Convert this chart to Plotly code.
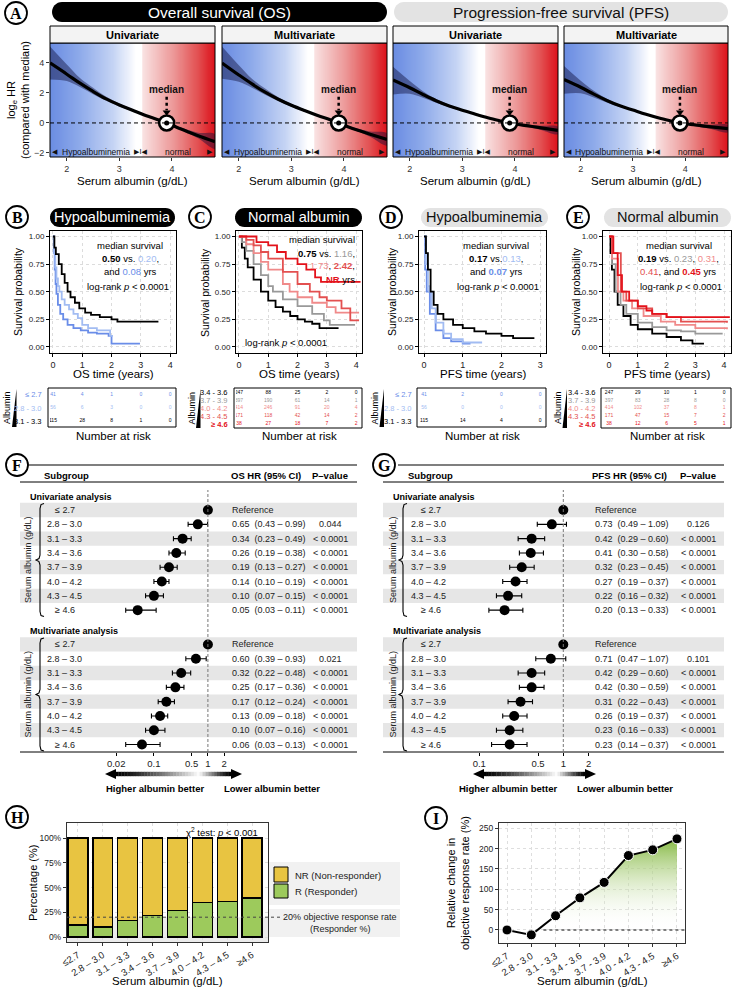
import numpy as np
import plotly.graph_objects as go

W, H = 732, 988
SANS = "Liberation Sans, Arial, Helvetica, sans-serif"
SERIF = "Liberation Serif, DejaVu Serif, serif"
SYM = "DejaVu Sans, sans-serif"

# ======================= DATA =======================
# Panel A: log HR (vs median albumin) spline estimates
alb_grid = [1.68, 2.0, 2.25, 2.5, 2.75, 3.0, 3.25, 3.5, 3.75, 3.9, 4.1, 4.3, 4.5, 4.82]
os_uni_hr = [4.0, 3.25, 2.65, 2.1, 1.6, 1.2, 0.85, 0.5, 0.2, 0.0, -0.3, -0.58, -0.85, -1.25]
os_uni_lo = [2.9, 2.8, 2.4, 1.92, 1.48, 1.1, 0.78, 0.45, 0.17, 0.0, -0.36, -0.68, -1.02, -1.72]
os_uni_hi = [5.1, 3.9, 3.0, 2.35, 1.75, 1.3, 0.92, 0.56, 0.23, 0.0, -0.24, -0.45, -0.65, -0.75]
os_multi_hr = [4.0, 3.2, 2.6, 2.05, 1.58, 1.18, 0.83, 0.5, 0.2, 0.0, -0.28, -0.52, -0.75, -1.1]
os_multi_lo = [2.95, 2.75, 2.35, 1.88, 1.46, 1.08, 0.76, 0.45, 0.17, 0.0, -0.34, -0.62, -0.92, -1.5]
os_multi_hi = [5.1, 3.85, 2.95, 2.3, 1.72, 1.28, 0.9, 0.56, 0.23, 0.0, -0.22, -0.4, -0.57, -0.7]
pfs_uni_hr = [2.87, 2.35, 1.9, 1.48, 1.13, 0.85, 0.58, 0.33, 0.12, 0.0, -0.12, -0.22, -0.33, -0.5]
pfs_uni_lo = [1.9, 1.95, 1.68, 1.35, 1.05, 0.8, 0.55, 0.31, 0.11, 0.0, -0.17, -0.32, -0.47, -0.75]
pfs_uni_hi = [3.75, 2.8, 2.12, 1.6, 1.21, 0.9, 0.62, 0.36, 0.13, 0.0, -0.08, -0.13, -0.18, -0.25]
pfs_multi_hr = [2.9, 2.38, 1.92, 1.5, 1.14, 0.86, 0.58, 0.33, 0.12, 0.0, -0.1, -0.18, -0.26, -0.38]
pfs_multi_lo = [1.95, 1.98, 1.7, 1.37, 1.06, 0.81, 0.55, 0.31, 0.11, 0.0, -0.15, -0.28, -0.4, -0.62]
pfs_multi_hi = [3.8, 2.82, 2.15, 1.62, 1.22, 0.91, 0.62, 0.36, 0.13, 0.0, -0.06, -0.09, -0.12, -0.15]
median_albumin = 3.9

# Panel B: OS, hypoalbuminemia (≤2.7, 2.8-3.0, 3.1-3.3)
km_B_t = [
    [0, 0.03, 0.06, 0.09, 0.12, 0.17, 0.25, 0.35, 0.5, 0.7, 0.95, 1.2, 1.5, 1.9, 2.0, 2.97],
    [0, 0.04, 0.08, 0.12, 0.17, 0.22, 0.3, 0.4, 0.55, 0.7, 0.85, 1.0, 1.2, 1.5, 1.95, 2.05],
    [0, 0.05, 0.1, 0.2, 0.3, 0.4, 0.5, 0.6, 0.75, 0.9, 1.1, 1.3, 1.6, 2.0, 2.2, 3.6],
]
km_B_s = [
    [1, 0.85, 0.7, 0.57, 0.48, 0.38, 0.3, 0.25, 0.2, 0.17, 0.15, 0.13, 0.12, 0.1, 0.03, 0.03],
    [1, 0.85, 0.72, 0.62, 0.55, 0.5, 0.43, 0.38, 0.34, 0.3, 0.26, 0.2, 0.17, 0.15, 0.1, 0.1],
    [1, 0.9, 0.84, 0.75, 0.66, 0.58, 0.5, 0.45, 0.4, 0.35, 0.31, 0.29, 0.27, 0.25, 0.23, 0.23],
]
# Panel C: OS, normal albumin (3.4-3.6 ... ≥4.6)
km_C_t = [
    [0, 0.1, 0.2, 0.3, 0.5, 0.75, 1.0, 1.25, 1.5, 1.75, 2.0, 2.25, 2.5, 2.75, 3.4],
    [0, 0.1, 0.25, 0.5, 0.75, 1.0, 1.16, 1.5, 2.0, 2.5, 2.9, 3.1, 3.96],
    [0, 0.25, 0.5, 0.75, 1.0, 1.5, 1.73, 2.0, 2.5, 3.0, 3.3, 4.1],
    [0, 0.25, 0.5, 0.75, 1.0, 1.5, 2.0, 2.42, 2.75, 3.0, 3.5, 3.8, 4.1],
    [0, 0.5, 0.6, 1.0, 1.3, 1.6, 2.0, 2.3, 2.6, 2.8, 4.15],
]
km_C_s = [
    [1, 0.9, 0.8, 0.72, 0.61, 0.5, 0.42, 0.36, 0.32, 0.28, 0.25, 0.23, 0.21, 0.17, 0.17],
    [1, 0.95, 0.87, 0.75, 0.65, 0.55, 0.5, 0.43, 0.37, 0.3, 0.24, 0.2, 0.2],
    [1, 0.93, 0.85, 0.77, 0.7, 0.57, 0.5, 0.45, 0.4, 0.36, 0.31, 0.31],
    [1, 0.97, 0.92, 0.86, 0.8, 0.68, 0.57, 0.5, 0.45, 0.42, 0.35, 0.24, 0.24],
    [1, 1.0, 0.95, 0.92, 0.86, 0.8, 0.75, 0.7, 0.63, 0.59, 0.59],
]
# Panel D: PFS, hypoalbuminemia
km_D_t = [
    [0, 0.03, 0.07, 0.15, 0.3, 0.5, 0.7, 1.0, 1.2],
    [0, 0.05, 0.1, 0.13, 0.2, 0.3, 0.5, 0.7, 1.0, 1.5],
    [0, 0.05, 0.1, 0.17, 0.25, 0.35, 0.5, 0.75, 1.0, 1.3, 1.6, 2.0, 2.3, 2.85],
]
km_D_s = [
    [1, 0.7, 0.5, 0.3, 0.15, 0.08, 0.05, 0.03, 0.03],
    [1, 0.75, 0.55, 0.5, 0.35, 0.22, 0.12, 0.07, 0.04, 0.04],
    [1, 0.85, 0.7, 0.5, 0.38, 0.3, 0.25, 0.2, 0.17, 0.14, 0.12, 0.1, 0.08, 0.08],
]
# Panel E: PFS, normal albumin
km_E_t = [
    [0, 0.05, 0.1, 0.19, 0.3, 0.5, 0.75, 1.0, 1.5, 2.0, 2.5, 2.9, 3.3],
    [0, 0.1, 0.23, 0.4, 0.6, 1.0, 1.5, 2.0, 2.5, 3.0, 3.95],
    [0, 0.1, 0.31, 0.5, 0.8, 1.2, 1.8, 2.3, 3.0, 4.1],
    [0, 0.1, 0.41, 0.6, 1.0, 1.5, 2.0, 2.5, 4.1],
    [0, 0.15, 0.3, 0.45, 0.7, 1.0, 1.3, 1.5, 2.0, 4.2],
]
km_E_s = [
    [1, 0.85, 0.7, 0.5, 0.38, 0.28, 0.2, 0.16, 0.12, 0.09, 0.06, 0.03, 0.03],
    [1, 0.75, 0.5, 0.38, 0.3, 0.22, 0.18, 0.15, 0.14, 0.12, 0.12],
    [1, 0.8, 0.5, 0.42, 0.35, 0.28, 0.23, 0.2, 0.17, 0.16],
    [1, 0.85, 0.5, 0.42, 0.35, 0.3, 0.27, 0.23, 0.22],
    [1, 0.85, 0.65, 0.5, 0.42, 0.37, 0.33, 0.3, 0.27, 0.27],
]

hypo_groups = ["≤ 2.7", "2.8 - 3.0", "3.1 - 3.3"]
normal_groups = ["3.4 - 3.6", "3.7 - 3.9", "4.0 - 4.2", "4.3 - 4.5", "≥ 4.6"]
risk_B = [[41, 4, 1, 0, 0], [56, 6, 3, 0, 0], [115, 28, 8, 1, 0]]
risk_C = [[247, 88, 25, 2, 0], [397, 190, 61, 14, 1], [414, 246, 91, 20, 4],
          [171, 118, 42, 14, 2], [38, 27, 18, 7, 2]]
risk_D = [[41, 2, 0, 0], [56, 0, 0, 0], [115, 14, 4, 0]]
risk_E = [[247, 29, 10, 1, 0], [397, 83, 28, 8, 0], [414, 102, 37, 8, 1],
          [171, 47, 15, 7, 2], [38, 12, 6, 5, 1]]

# Forest plots
forest_cats = ["≤ 2.7", "2.8 – 3.0", "3.1 – 3.3", "3.4 – 3.6", "3.7 – 3.9", "4.0 – 4.2", "4.3 – 4.5", "≥ 4.6"]
F_uni_hr = [1, 0.65, 0.34, 0.26, 0.19, 0.14, 0.10, 0.05]
F_uni_lo = [1, 0.43, 0.23, 0.19, 0.13, 0.10, 0.07, 0.03]
F_uni_hi = [1, 0.99, 0.49, 0.38, 0.27, 0.19, 0.15, 0.11]
F_uni_p = ["", "0.044", "< 0.0001", "< 0.0001", "< 0.0001", "< 0.0001", "< 0.0001", "< 0.0001"]
F_multi_hr = [1, 0.60, 0.32, 0.25, 0.17, 0.13, 0.10, 0.06]
F_multi_lo = [1, 0.39, 0.22, 0.17, 0.12, 0.09, 0.07, 0.03]
F_multi_hi = [1, 0.93, 0.48, 0.36, 0.24, 0.18, 0.16, 0.13]
F_multi_p = ["", "0.021", "< 0.0001", "< 0.0001", "< 0.0001", "< 0.0001", "< 0.0001", "< 0.0001"]
G_uni_hr = [1, 0.73, 0.42, 0.41, 0.32, 0.27, 0.22, 0.20]
G_uni_lo = [1, 0.49, 0.29, 0.30, 0.23, 0.19, 0.16, 0.13]
G_uni_hi = [1, 1.09, 0.60, 0.58, 0.45, 0.37, 0.32, 0.33]
G_uni_p = ["", "0.126", "< 0.0001", "< 0.0001", "< 0.0001", "< 0.0001", "< 0.0001", "< 0.0001"]
G_multi_hr = [1, 0.71, 0.42, 0.42, 0.31, 0.26, 0.23, 0.23]
G_multi_lo = [1, 0.47, 0.29, 0.30, 0.22, 0.19, 0.16, 0.14]
G_multi_hi = [1, 1.07, 0.60, 0.59, 0.43, 0.37, 0.33, 0.37]
G_multi_p = ["", "0.101", "< 0.0001", "< 0.0001", "< 0.0001", "< 0.0001", "< 0.0001", "< 0.0001"]
F_ticks = [0.02, 0.1, 0.5, 1, 2]
G_ticks = [0.1, 0.5, 1, 2]

# H / I
H_cats = ["≤2.7", "2.8 – 3.0", "3.1 – 3.3", "3.4 – 3.6", "3.7 – 3.9", "4.0 – 4.2", "4.3 – 4.5", "≥4.6"]
I_cats = ["≤2.7", "2.8 - 3.0", "3.1 - 3.3", "3.4 - 3.6", "3.7 - 3.9", "4.0 - 4.2", "4.3 - 4.5", "≥4.6"]
responder_frac = [0.12, 0.10, 0.17, 0.215, 0.27, 0.35, 0.36, 0.395]
orr_rel_change = [0, -12, 35, 79, 117, 183, 197, 224]

# ======================= HELPERS =======================
C_LE27 = "#6a8de8"
C_2830 = "#a2bcf2"
C_3739 = "#999999"
C_4042 = "#f08a8a"
C_4345 = "#e35050"
C_GE46 = "#e3121b"
hypo_colors = [C_LE27, C_2830, "black"]
normal_colors = ["black", C_3739, C_4042, C_4345, C_GE46]

fig = go.Figure()
layout = {}
shapes = []
anns = []


def PX(p):
    return p / W


def PY(p):
    return 1 - p / H


def refs(n):
    return ("x" if n == 1 else f"x{n}"), ("y" if n == 1 else f"y{n}")


def set_axes(n, xpx, ypx, xr, yr, xopt=None, yopt=None):
    xk = "xaxis" if n == 1 else f"xaxis{n}"
    yk = "yaxis" if n == 1 else f"yaxis{n}"
    xr_, yr_ = refs(n)
    base = dict(showgrid=False, zeroline=False, showline=False, showticklabels=False,
                ticks="", fixedrange=True, automargin=False,
                tickfont=dict(family=SANS, size=9, color="#333"))
    xa = dict(base, domain=[PX(xpx[0]), PX(xpx[1])], range=xr, anchor=yr_)
    ya = dict(base, domain=[PY(ypx[1]), PY(ypx[0])], range=yr, anchor=xr_)
    if xopt:
        xa.update(xopt)
    if yopt:
        ya.update(yopt)
    layout[xk] = xa
    layout[yk] = ya
    return xr_, yr_


def ann(x, y, text, size=9, color="black", xanchor="center", yanchor="middle",
        angle=0, xref="paper", yref="paper", family=SANS, **kw):
    if text == "":
        return
    xx = PX(x) if xref == "paper" else x
    yy = PY(y) if yref == "paper" else y
    anns.append(dict(x=xx, y=yy, xref=xref, yref=yref, text=text, showarrow=False,
                     xanchor=xanchor, yanchor=yanchor, textangle=angle,
                     font=dict(family=family, size=size, color=color), **kw))


def rect(x0, y0, x1, y1, fill="rgba(0,0,0,0)", line="black", lw=1, layer="above"):
    shapes.append(dict(type="rect", xref="paper", yref="paper", x0=PX(x0), x1=PX(x1),
                       y0=PY(y1), y1=PY(y0), fillcolor=fill,
                       line=dict(color=line, width=lw), layer=layer))


def hline(x0, x1, y, color="black", lw=1, dash="solid"):
    shapes.append(dict(type="line", xref="paper", yref="paper", x0=PX(x0), x1=PX(x1),
                       y0=PY(y), y1=PY(y), line=dict(color=color, width=lw, dash=dash)))


def poly(pts, fill="black", line="rgba(0,0,0,0)", lw=0):
    p = "M " + " L ".join(f"{PX(a):.5f},{PY(b):.5f}" for a, b in pts) + " Z"
    shapes.append(dict(type="path", xref="paper", yref="paper", path=p, fillcolor=fill,
                       line=dict(color=line, width=lw)))


def pill(x0, y0, x1, y1, fill, line=None):
    r = (y1 - y0) / 2
    cy = (y0 + y1) / 2
    pts = []
    for a in np.linspace(-90, 90, 16):
        t = np.radians(a)
        pts.append((x1 - r + r * np.cos(t), cy + r * np.sin(t)))
    for a in np.linspace(90, 270, 16):
        t = np.radians(a)
        pts.append((x0 + r + r * np.cos(t), cy + r * np.sin(t)))
    poly(pts, fill=fill, line=line or fill, lw=1 if line else 0)


def label_circle(cx, cy, letter):
    r = 11
    shapes.append(dict(type="circle", xref="paper", yref="paper", x0=PX(cx - r), x1=PX(cx + r),
                       y0=PY(cy + r), y1=PY(cy - r), fillcolor="white",
                       line=dict(color="black", width=1.8)))
    ann(cx, cy + 0.5, f"<b>{letter}</b>", size=16, family=SERIF)


# ======================= PANEL A =======================
label_circle(16, 13, "A")
pill(52, 2, 387, 22, "black")
ann(219, 12, "Overall survival (OS)", size=15.5, color="white")
pill(394, 2, 728, 22, "#e3e3e3")
ann(561, 12, "Progression-free survival (PFS)", size=15.5, color="#111")

A_specs = [
    (50, 215, "Univariate", os_uni_hr, os_uni_lo, os_uni_hi),
    (222, 387, "Multivariate", os_multi_hr, os_multi_lo, os_multi_hi),
    (393, 558, "Univariate", pfs_uni_hr, pfs_uni_lo, pfs_uni_hi),
    (564, 728, "Multivariate", pfs_multi_hr, pfs_multi_lo, pfs_multi_hi),
]
AX = [1.68, 4.82]
AY = [-2.27, 5.33]
bg_x = np.linspace(AX[0], AX[1], 320)
bg_scale = [[0.0, "#6a8ce2"], [0.18, "#8eaaea"], [0.38, "#c4d3f4"], [0.52, "#ffffff"],
            [0.552, "#ffffff"], [0.56, "#f9e2e2"], [0.75, "#ec9696"], [0.9, "#e24c4e"], [1.0, "#dc0e18"]]
for i, (x0, x1, title, hr, lo, hi) in enumerate(A_specs):
    n = i + 1
    yopt = dict(ticks="outside", ticklen=3, tickcolor="#333", showticklabels=(i == 0),
                tickvals=[-2, 0, 2, 4]) if i == 0 else None
    xr_, yr_ = set_axes(n, (x0, x1), (43, 157), AX, AY,
                        xopt=dict(ticks="outside", ticklen=3, tickcolor="#333",
                                  showticklabels=True, tickvals=[2, 3, 4]),
                        yopt=yopt)
    fig.add_trace(go.Heatmap(x=bg_x, y=AY, z=[bg_x, bg_x], colorscale=bg_scale, zmin=AX[0], zmax=AX[1],
                             showscale=False, hoverinfo="skip", xaxis=xr_, yaxis=yr_))
    fig.add_trace(go.Scatter(x=alb_grid + alb_grid[::-1], y=hi + lo[::-1], fill="toself",
                             fillcolor="rgba(15,15,60,0.45)", line=dict(width=0, shape="spline"),
                             mode="lines", hoverinfo="skip", xaxis=xr_, yaxis=yr_))
    shapes.append(dict(type="line", xref=xr_, yref=yr_, x0=AX[0], x1=AX[1], y0=0, y1=0,
                       line=dict(color="black", width=1, dash="4px,3px")))
    fig.add_trace(go.Scatter(x=alb_grid, y=hr, mode="lines", line=dict(color="black", width=3.2, shape="spline"),
                             hoverinfo="skip", xaxis=xr_, yaxis=yr_))
    # median marker
    fig.add_trace(go.Scatter(x=[median_albumin], y=[0], mode="markers",
                             marker=dict(symbol="circle", size=15, color="white", line=dict(color="black", width=2.6)),
                             hoverinfo="skip", xaxis=xr_, yaxis=yr_))
    fig.add_trace(go.Scatter(x=[median_albumin], y=[0], mode="markers",
                             marker=dict(symbol="circle", size=5, color="black"),
                             hoverinfo="skip", xaxis=xr_, yaxis=yr_))
    fig.add_trace(go.Scatter(x=[median_albumin, median_albumin], y=[1.75, 0.85], mode="lines",
                             line=dict(color="black", width=2.5, dash="dot"), hoverinfo="skip",
                             xaxis=xr_, yaxis=yr_))
    fig.add_trace(go.Scatter(x=[median_albumin], y=[0.72], mode="markers",
                             marker=dict(symbol="triangle-down", size=7, color="black"),
                             hoverinfo="skip", xaxis=xr_, yaxis=yr_))
    ann(median_albumin, 2.25, "<b>median</b>", size=10, xref=xr_, yref=yr_, color="#111")
    ann(2.55, -1.95, "Hypoalbuminemia", size=8.5, xref=xr_, yref=yr_, color="#111")
    ann(4.12, -1.95, "normal", size=8.5, xref=xr_, yref=yr_, color="#111")
    for xx, tt in [(1.77, "◀"), (3.40, "▶I◀"), (4.73, "▶")]:
        ann(xx, -1.95, tt, size=7, xref=xr_, yref=yr_, color="#111", family=SYM)
    rect(x0, 43, x1, 157, lw=1)
    rect(x0, 26, x1, 43, fill="#f3f3f3", lw=1)
    ann((x0 + x1) / 2, 34.5, f"<b>{title}</b>", size=11)
    ann((x0 + x1) / 2, 181, "Serum albumin (g/dL)", size=11.5)
ann(18, 100, "log<sub>e</sub> HR<br>(compared with median)", size=11, angle=-90)

# ======================= KM PANELS =======================
KM_specs = [
    ("B", 17, (50, 176), [-0.1, 4.2], [0, 1, 2, 3, 4], "OS time (years)", km_B_t, km_B_s, hypo_colors,
     "Hypoalbuminemia", "black", "white", 18, risk_B, hypo_groups),
    ("C", 200, (236, 362), [-0.1, 4.2], [0, 1, 2, 3, 4], "OS time (years)", km_C_t, km_C_s, normal_colors,
     "Normal albumin", "black", "white", 205, risk_C, normal_groups),
    ("D", 391, (419, 546), [-0.13, 3.15], [0, 1, 2, 3], "PFS time (years)", km_D_t, km_D_s, hypo_colors,
     "Hypoalbuminemia", "#e3e3e3", "#111", 392, risk_D, hypo_groups),
    ("E", 578, (603, 731), [-0.21, 4.24], [0, 1, 2, 3, 4], "PFS time (years)", km_E_t, km_E_s, normal_colors,
     "Normal albumin", "#e3e3e3", "#111", 576, risk_E, normal_groups),
]
pill_x = {"B": (50, 175), "C": (235, 362), "D": (421, 548), "E": (604, 731)}
for k, (lab, lcx, xpx, xr, xt, xtitle, tt, ss, cols, ptitle, pfill, pcol, ytx, risk, groups) in enumerate(KM_specs):
    n = 5 + k
    xr_, yr_ = set_axes(n, xpx, (231, 353), xr, [-0.055, 1.05],
                        xopt=dict(showline=True, mirror=True, linecolor="black", linewidth=1,
                                  ticks="outside", ticklen=3, tickcolor="black", showticklabels=True,
                                  tickvals=xt, showgrid=True, gridcolor="#dcdcdc", griddash="dot",
                                  tickfont=dict(family=SANS, size=9, color="#222")),
                        yopt=dict(showline=True, mirror=True, linecolor="black", linewidth=1,
                                  ticks="outside", ticklen=3, tickcolor="black", showticklabels=True,
                                  tickvals=[0, 0.25, 0.5, 0.75, 1.0], tickformat=".2f",
                                  showgrid=True, gridcolor="#dcdcdc", griddash="dot",
                                  tickfont=dict(family=SANS, size=8, color="#222")))
    for g in range(len(tt)):
        fig.add_trace(go.Scatter(x=tt[g], y=ss[g], mode="lines", line=dict(color=cols[g], width=1.8, shape="hv"),
                                 hoverinfo="skip", xaxis=xr_, yaxis=yr_))
    label_circle(lcx, 217, lab)
    px0, px1 = pill_x[lab]
    pill(px0, 208, px1, 227, pfill)
    ann((px0 + px1) / 2, 217.5, ptitle, size=14.5, color=pcol)
    ann(ytx, 292, "Survival probability", size=10.5, angle=-90)
    ann((xpx[0] + xpx[1]) / 2, 374, xtitle, size=11.5)

    # risk table
    m = 9 + k
    nrow = len(risk)
    if nrow == 3:
        ypx = (388, 427)
        yr = [nrow - 0.5 + 0.0, -0.54]
        rowpx = [395 + 13 * r for r in range(nrow)]
    else:
        ypx = (388, 428)
        yr = [nrow - 0.5 + 0.0, -0.56]
        rowpx = [392.5 + 8 * r for r in range(nrow)]
    xr2, yr2 = set_axes(m, xpx, ypx, xr, yr)
    for r in range(nrow):
        fig.add_trace(go.Scatter(x=xt, y=[r] * len(xt), text=[str(v) for v in risk[r]], mode="text",
                                 textfont=dict(family=SANS, size=5, color=cols[r]), hoverinfo="skip",
                                 xaxis=xr2, yaxis=yr2))
    rect(xpx[0] - 2, ypx[0], xpx[1], ypx[1], lw=1)
    lab_right = {"B": 44, "C": 230, "D": 414, "E": 598}[lab]
    for r in range(nrow):
        txt = groups[r]
        if groups[r].startswith("≥"):
            txt = f"<b>{txt}</b>"
        ann(lab_right, rowpx[r], txt, size=7.5, color=cols[r], xanchor="right")
    wx = {"B": 16.5, "C": 200.5, "D": 384, "E": 567}[lab]
    poly([(wx, ypx[0] + 1), (wx - 4.5, ypx[1]), (wx, ypx[1])], fill="black")
    ann(wx - 9, (ypx[0] + ypx[1]) / 2, "Albumin", size=9, angle=-90)
    ann((xpx[0] + xpx[1]) / 2, 436, "Number at risk", size=11.5)

# KM annotations
sp = lambda c, t: f'<span style="color:{c}">{t}</span>'
ann(130, 245, "median survival", size=9.5)
ann(130, 258, "<b>0.50</b> vs. " + sp(C_2830, "0.20") + ",", size=9.5)
ann(130, 271, "and " + sp(C_LE27, "0.08") + " yrs", size=9.5)
ann(128, 286, "log-rank <i>p</i> < 0.0001", size=9.5)

ann(357, 240, "median survival", size=9.5, xanchor="right")
ann(357, 253, "<b>0.75</b> vs. " + sp(C_3739, "1.16") + ",", size=9.5, xanchor="right")
ann(357, 266, sp(C_4042, "1.73") + ", " + sp(C_4345, "<b>2.42</b>") + ",", size=9.5, xanchor="right")
ann(357, 279, sp(C_GE46, "<b>NR</b>") + " yrs", size=9.5, xanchor="right")
ann(286, 342, "log-rank <i>p</i> < 0.0001", size=9.5)

ann(496, 245, "median survival", size=9.5)
ann(496, 258, "<b>0.17</b> vs." + sp(C_2830, "0.13") + ",", size=9.5)
ann(496, 271, "and " + sp(C_LE27, "<b>0.07</b>") + " yrs", size=9.5)
ann(498, 286, "log-rank <i>p</i> < 0.0001", size=9.5)

ann(679, 245, "median survival", size=9.5)
ann(678, 258, "<b>0.19</b> vs. " + sp(C_3739, "0.23") + ", " + sp(C_4042, "0.31") + ",", size=9.5)
ann(678, 271, sp(C_4345, "0.41") + ", and " + sp(C_GE46, "<b>0.45</b>") + " yrs", size=9.5)
ann(681, 286, "log-rank <i>p</i> < 0.0001", size=9.5)

# ======================= FOREST PANELS =======================
row_uni = list(range(8))
row_multi = [9.4 + i for i in range(8)]
ROW0_PX = 510
ROW_PX = 14.3


def rowpx(r):
    return ROW0_PX + r * ROW_PX


def brace(xs, ytop, ybot):
    ym = (ytop + ybot) / 2
    d = 4
    rr = 5
    pts = [(xs + d, ytop), (xs + 1, ytop + 1), (xs, ytop + rr), (xs, ym - rr), (xs - 1, ym - 1.5), (xs - d, ym),
           (xs - 1, ym + 1.5), (xs, ym + rr), (xs, ybot - rr), (xs + 1, ybot - 1), (xs + d, ybot)]
    p = "M " + " L ".join(f"{PX(a):.5f},{PY(b):.5f}" for a, b in pts)
    shapes.append(dict(type="path", xref="paper", yref="paper", path=p, line=dict(color="black", width=1.1)))


def forest(n, label, lcx, xpx, xr, ticks, sides, hdr, geom):
    left, right, cat_x, cat_x2, hr_x, p_x, sub_x, sec_x, brace_x, rot_x, top_left = geom
    xr_, yr_ = set_axes(n, xpx, (460, 752), xr, [16.92, -3.5],
                        xopt=dict(type="log", ticks="outside", ticklen=3, tickcolor="black",
                                  showticklabels=True, tickvals=ticks, ticktext=[str(t) for t in ticks],
                                  tickfont=dict(family=SANS, size=9.5, color="#222")))
    label_circle(lcx, 465, label)
    hline(top_left, right, 465, lw=1.2)
    hline(left, right, 482, lw=1)
    hline(left, right, 752, lw=1)
    ann(sub_x, 475, "<b>Subgroup</b>", size=9.5, xanchor="left")
    ann(hr_x + 36, 475, f"<b>{hdr}</b>", size=9.5)
    ann(p_x, 475, "<b>P–value</b>", size=9.5)
    ann(sec_x, rowpx(-0.9), "<b>Univariate analysis</b>", size=9, xanchor="left")
    ann(sec_x, rowpx(8.47), "<b>Multivariate analysis</b>", size=9, xanchor="left")
    shapes.append(dict(type="line", xref=xr_, yref="paper", x0=1, x1=1, y0=PY(752), y1=PY(490),
                       line=dict(color="#777", width=1, dash="3px,2px")))
    for rows, (hr, lo, hi, pv) in zip([row_uni, row_multi], sides):
        for j, r in enumerate(rows):
            if j % 2 == 0:
                rect(left, rowpx(r - 0.5), right, rowpx(r + 0.5), fill="#e6e6e6", line="rgba(0,0,0,0)",
                     lw=0, layer="below")
            cx = cat_x2 if forest_cats[j][0] in "≤≥" else cat_x
            ann(cx, rowpx(r), forest_cats[j], size=9, xanchor="left", color="#222")
            if j == 0:
                ann(hr_x, rowpx(r), "Reference", size=9, xanchor="left", color="#222")
            else:
                ann(hr_x, rowpx(r), f"{hr[j]:.2f}  ({lo[j]:.2f} – {hi[j]:.2f})", size=9,
                    xanchor="left", color="#222")
            ann(p_x, rowpx(r), pv[j], size=9, color="#222")
        fig.add_trace(go.Scatter(
            x=hr, y=rows, mode="markers",
            marker=dict(size=10, color="black"),
            error_x=dict(type="data", symmetric=False,
                         array=[b - a for a, b in zip(hr, hi)],
                         arrayminus=[a - c for a, c in zip(hr, lo)],
                         color="black", thickness=1.1, width=2.5),
            hoverinfo="skip", xaxis=xr_, yaxis=yr_))
        brace(brace_x, rowpx(rows[0] - 0.45), rowpx(rows[-1] + 0.45))
        ann(rot_x, rowpx((rows[0] + rows[-1]) / 2), "Serum albumin (g/dL)", size=9, angle=-90, color="#222")


forest(13, "F", 17, (60, 250), [-2.74, 0.78], F_ticks,
       [(F_uni_hr, F_uni_lo, F_uni_hi, F_uni_p), (F_multi_hr, F_multi_lo, F_multi_hi, F_multi_p)],
       "OS HR (95% CI)",
       (20, 357, 45, 53, 230, 330, 42, 28, 40, 28, 28))
forest(14, "G", 384, (390, 640), [-2.063, 0.913], G_ticks,
       [(G_uni_hr, G_uni_lo, G_uni_hi, G_uni_p), (G_multi_hr, G_multi_lo, G_multi_hi, G_multi_p)],
       "PFS HR (95% CI)",
       (383, 724, 409, 419, 593, 698, 406, 391, 403, 393, 398))


def grad_arrow(xl, xr, yc):
    head = 11
    poly([(xl, yc), (xl + head, yc - 5), (xl + head, yc + 5)], fill="black")
    poly([(xr, yc), (xr - head, yc - 5), (xr - head, yc + 5)], fill="black")
    bx0, bx1 = xl + head - 0.5, xr - head + 0.5
    N = 40
    for k in range(N):
        fm = (k + 0.5) / N
        g = fm / 0.72 if fm < 0.72 else 1 - (fm - 0.72) / 0.28
        v = int(255 * min(1, max(0, g)) ** 1.3)
        xa = bx0 + (bx1 - bx0) * k / N
        xb = bx0 + (bx1 - bx0) * (k + 1) / N + 0.3
        rect(xa, yc - 2.2, xb, yc + 2.2, fill=f"rgb({v},{v},{v})", line="rgba(0,0,0,0)", lw=0)


grad_arrow(105, 242, 774)
ann(155, 788, "<b>Higher albumin better</b>", size=9.5)
ann(272, 788, "<b>Lower albumin better</b>", size=9.5)
grad_arrow(473, 596, 774)
ann(508, 788, "<b>Higher albumin better</b>", size=9.5)
ann(625, 788, "<b>Lower albumin better</b>", size=9.5)

# ======================= PANEL H =======================
label_circle(17, 817, "H")
xh, yh = set_axes(15, (67, 268), (823, 942), [-0.44, 7.64], [-0.0505, 1.152],
                  xopt=dict(showline=True, mirror=True, linecolor="#333", linewidth=1.2,
                            ticks="outside", ticklen=3, tickcolor="#333", showticklabels=True,
                            tickvals=list(range(8)), ticktext=H_cats, tickangle=-32,
                            showgrid=True, gridcolor="#dedede", griddash="dot",
                            tickfont=dict(family=SANS, size=9.5, color="#222")),
                  yopt=dict(showline=True, mirror=True, linecolor="#333", linewidth=1.2,
                            ticks="outside", ticklen=3, tickcolor="#333", showticklabels=True,
                            tickvals=[0, 0.25, 0.5, 0.75, 1.0], tickformat=".0%",
                            showgrid=True, gridcolor="#dedede", griddash="dot",
                            tickfont=dict(family=SANS, size=8.5, color="#222")))
shapes.append(dict(type="rect", xref=xh, yref=yh, x0=-0.44, x1=7.64, y0=-0.0505, y1=0.2,
                   fillcolor="#ebebeb", line=dict(width=0), layer="below"))
nonresp = [1 - r for r in responder_frac]
fig.add_trace(go.Bar(x=list(range(8)), y=responder_frac, width=0.8, marker=dict(color="#9dca5c", line=dict(color="black", width=1.3)),
                     hoverinfo="skip", xaxis=xh, yaxis=yh))
fig.add_trace(go.Bar(x=list(range(8)), y=nonresp, width=0.8, marker=dict(color="#e8c441", line=dict(color="black", width=1.3)),
                     hoverinfo="skip", xaxis=xh, yaxis=yh))
hline(67, 283, 917.2, color="#444", lw=1, dash="dot")
ann(260, 832, "χ<sup>2</sup> test: <i>p</i> < 0.001", size=9.5, xanchor="right")
ann(33, 883, "Percentage (%)", size=11, angle=-90)
ann(167, 981, "Serum albumin (g/dL)", size=11.5)
rect(269, 862, 400, 905, fill="#f1f1f1", line="rgba(0,0,0,0)", lw=0, layer="below")
rect(269, 909, 400, 937, fill="#f1f1f1", line="rgba(0,0,0,0)", lw=0, layer="below")
rect(274, 867, 288, 882, fill="#e8c441", lw=1)
rect(274, 884, 288, 898, fill="#9dca5c", lw=1)
ann(293, 875, "NR (Non-responder)", size=9.5, xanchor="left", color="#222")
ann(293, 891, "R (Responder)", size=9.5, xanchor="left", color="#222")
ann(340, 917, "20% objective response rate", size=9, color="#222")
ann(340, 928.5, "(Responder %)", size=9, color="#222")

# ======================= PANEL I =======================
label_circle(436, 818, "I")
xi, yi = set_axes(16, (499, 685), (823, 943), [-0.33, 7.33], [-32, 263],
                  xopt=dict(showline=True, mirror=True, linecolor="#333", linewidth=1.2,
                            ticks="outside", ticklen=3, tickcolor="#333", showticklabels=True,
                            tickvals=list(range(8)), ticktext=I_cats, tickangle=-32,
                            showgrid=True, gridcolor="#dedede", griddash="dot",
                            tickfont=dict(family=SANS, size=9.5, color="#222")),
                  yopt=dict(showline=True, mirror=True, linecolor="#333", linewidth=1.2,
                            ticks="outside", ticklen=3, tickcolor="#333", showticklabels=True,
                            tickvals=[0, 50, 100, 150, 200, 250], ticksuffix="%",
                            showgrid=True, gridcolor="#dedede", griddash="dot",
                            tickfont=dict(family=SANS, size=8.5, color="#222")))
fig.add_trace(go.Scatter(x=list(range(2, 8)), y=orr_rel_change[2:], mode="lines", fill="tozeroy",
                         line=dict(width=0), fillgradient=dict(type="vertical", start=0, stop=max(orr_rel_change),
                                                               colorscale=[[0, "rgba(255,255,255,0)"], [1, "#86b944"]]),
                         hoverinfo="skip", xaxis=xi, yaxis=yi))
shapes.append(dict(type="line", xref=xi, yref=yi, x0=1.5, x1=7.33, y0=0, y1=0,
                   line=dict(color="black", width=1.2, dash="dot")))
fig.add_trace(go.Scatter(x=list(range(8)), y=orr_rel_change, mode="lines+markers",
                         line=dict(color="black", width=2),
                         marker=dict(size=10, color="black", line=dict(color="white", width=1)),
                         hoverinfo="skip", xaxis=xi, yaxis=yi))
ann(458, 883, "Relative change in<br>objective response rate (%)", size=11, angle=-90)
ann(592, 981, "Serum albumin (g/dL)", size=11.5)

layout.update(dict(width=W, height=H, margin=dict(l=0, r=0, t=0, b=0, pad=0), paper_bgcolor="white",
                   plot_bgcolor="white", showlegend=False, barmode="stack",
                   font=dict(family=SANS, color="black"), shapes=shapes, annotations=anns))
fig.update_layout(**layout)
fig.write_html(
    "out.html",
    config={"displayModeBar": False},
    post_script=(
        "document.documentElement.style.margin='0';document.documentElement.style.padding='0';"
        "document.body.style.margin='0';document.body.style.padding='0';document.body.style.overflow='hidden';"
        "var d=document.getElementById('{plot_id}');d.style.position='absolute';d.style.left='0px';d.style.top='0px';"
    ),
)
